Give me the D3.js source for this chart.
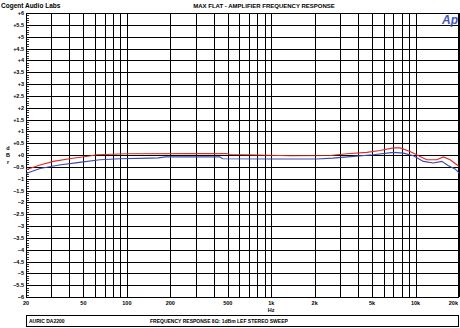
<!DOCTYPE html>
<html>
<head>
<meta charset="utf-8">
<script src="https://cdn.jsdelivr.net/npm/d3@7"></script>
<style>
  body { margin: 0; background: #fff; }
  svg { display: block; font-family: "Liberation Sans", Arial, sans-serif; font-weight: bold; }
</style>
</head>
<body>
<div id="chart"></div>
<script>
'use strict';

// data
const redFreq = [20, 25, 31, 40, 55, 62, 100, 300, 490, 520, 800, 1350, 2560, 3340, 4590, 5680, 7020, 7820, 9160, 10740, 11960, 14030, 15600, 17340, 19320, 20000];
const redDb   = [-0.62, -0.42, -0.27, -0.16, -0.04, 0.01, 0.05, 0.06, 0.06, 0.02, 0.0, -0.03, -0.02, 0.05, 0.11, 0.19, 0.30, 0.30, 0.15, -0.06, -0.20, -0.20, -0.08, -0.20, -0.41, -0.48];

const blueFreq = [20, 25, 34, 47, 65, 90, 145, 165, 185, 440, 460, 1000, 2070, 2680, 3710, 5100, 7020, 8240, 9660, 11330, 13300, 15200, 16900, 18800, 19800, 20000];
const blueDb   = [-0.78, -0.57, -0.42, -0.31, -0.20, -0.16, -0.13, -0.12, -0.08, -0.08, -0.16, -0.17, -0.17, -0.13, -0.06, 0.01, 0.11, 0.08, -0.03, -0.27, -0.34, -0.27, -0.45, -0.59, -0.73, -0.78];

const xTickValues = [20, 50, 100, 200, 500, 1000, 2000, 5000, 10000, 20000];
const xTickLabels = ['20', '50', '100', '200', '500', '1k', '2k', '5k', '10k', '20k'];
const yTickValues = d3.range(-6, 6.001, 0.5);

const width = 460, height = 328;
const margin = { top: 13, right: 1, bottom: 31, left: 26 };

let svg = d3.select('#chart').append('svg')
    .attr('width', width)
    .attr('height', height);

svg.append('rect').attr('width', width).attr('height', height).style('fill', '#fff');

let x = d3.scaleLog().domain([20, 20000]).range([margin.left, width - margin.right]);
let y = d3.scaleLinear().domain([-6, 6]).range([height - margin.bottom, margin.top]);

// vertical grid: 1..9 in each decade
let gridFreqs = [];
[10, 100, 1000, 10000].forEach(function (dec) {
    for (let m = 1; m < 10; m++) {
        let f = m * dec;
        if (f >= 20 && f <= 20000) gridFreqs.push(f);
    }
});

let grid = svg.append('g').attr('class', 'grid');

grid.selectAll('.vgrid').data(gridFreqs).enter().append('line')
    .attr('x1', function (d) { return Math.round(x(d)) + 0.5; })
    .attr('x2', function (d) { return Math.round(x(d)) + 0.5; })
    .attr('y1', y(6))
    .attr('y2', y(-6))
    .style('stroke', '#000')
    .style('stroke-width', 1);

grid.selectAll('.hgrid').data(yTickValues).enter().append('line')
    .attr('x1', x(20))
    .attr('x2', x(20000))
    .attr('y1', function (d) { return Math.round(y(d)) + 0.5; })
    .attr('y2', function (d) { return Math.round(y(d)) + 0.5; })
    .style('stroke', '#000')
    .style('stroke-width', 1);

// minor ticks on the left edge
let minor = d3.range(-6, 6.001, 0.1).filter(function (v) {
    return Math.abs(v * 2 - Math.round(v * 2)) > 0.01;
});
grid.selectAll('.minor').data(minor).enter().append('line')
    .attr('x1', x(20))
    .attr('x2', x(20) + 3)
    .attr('y1', function (d) { return Math.round(y(d)) + 0.5; })
    .attr('y2', function (d) { return Math.round(y(d)) + 0.5; })
    .style('stroke', '#000')
    .style('stroke-width', 0.8);

// frame
svg.append('rect')
    .attr('x', x(20) + 0.5)
    .attr('y', y(6) + 0.5)
    .attr('width', x(20000) - x(20) - 1)
    .attr('height', y(-6) - y(6))
    .style('fill', 'none')
    .style('stroke', '#000')
    .style('stroke-width', 1);

// y tick labels
svg.selectAll('.ylab').data(yTickValues).enter().append('text')
    .text(function (d) {
        if (d === 0) return '+0';
        return (d > 0 ? '+' : '') + d3.format('')(d);
    })
    .attr('x', x(20) - 2)
    .attr('y', function (d) { return y(d) + 2; })
    .style('font-size', '5.5px')
    .style('text-anchor', 'end');

// x tick labels
let lastTick = xTickValues.length - 1;
svg.selectAll('.xlab').data(xTickValues).enter().append('text')
    .text(function (d, i) { return xTickLabels[i]; })
    .attr('x', function (d, i) { return i === lastTick ? x(d) - 1 : x(d); })
    .attr('y', y(-6) + 8)
    .style('font-size', '5.5px')
    .style('text-anchor', function (d, i) { return i === lastTick ? 'end' : 'middle'; });

svg.append('text').text('Hz')
    .attr('x', x(1000))
    .attr('y', 312)
    .style('font-size', '5.5px')
    .style('text-anchor', 'middle');

// y axis label, stacked letters
['d', 'B', 'r'].forEach(function (ch, i) {
    svg.append('text').text(ch)
        .attr('x', 8)
        .attr('y', 150 + i * 7)
        .style('font-size', '5.5px')
        .style('text-anchor', 'middle');
});

// curves
let line = d3.line()
    .x(function (d) { return x(d[0]); })
    .y(function (d) { return y(d[1]); });

svg.append('path')
    .datum(d3.zip(blueFreq, blueDb))
    .attr('d', line)
    .style('fill', 'none')
    .style('stroke', '#3a48b0')
    .style('stroke-width', 1.1);

svg.append('path')
    .datum(d3.zip(redFreq, redDb))
    .attr('d', line)
    .style('fill', 'none')
    .style('stroke', '#e02a22')
    .style('stroke-width', 1.1);

// titles
svg.append('text').text('Cogent Audio Labs')
    .attr('x', 1)
    .attr('y', 8)
    .style('font-size', '6.5px');

svg.append('text').text('MAX FLAT  - AMPLIFIER FREQUENCY RESPONSE')
    .attr('x', 264)
    .attr('y', 8)
    .style('font-size', '6px')
    .style('text-anchor', 'middle');

svg.append('text').text('Ap')
    .attr('x', 458)
    .attr('y', 24)
    .style('font-size', '12px')
    .style('font-style', 'italic')
    .style('fill', '#4358b8')
    .style('text-anchor', 'end');

// bottom comment box
svg.append('rect')
    .attr('x', 26.5)
    .attr('y', 315.5)
    .attr('width', 432)
    .attr('height', 11)
    .style('fill', 'none')
    .style('stroke', '#000')
    .style('stroke-width', 1);

svg.append('text').text('AURIC DA2200')
    .attr('x', 29)
    .attr('y', 323)
    .style('font-size', '5px');

svg.append('text').text('FREQUENCY RESPONSE 8\u03A9: 1dBm LEF  STEREO SWEEP')
    .attr('x', 150)
    .attr('y', 323)
    .style('font-size', '5px');
</script>
</body>
</html>
